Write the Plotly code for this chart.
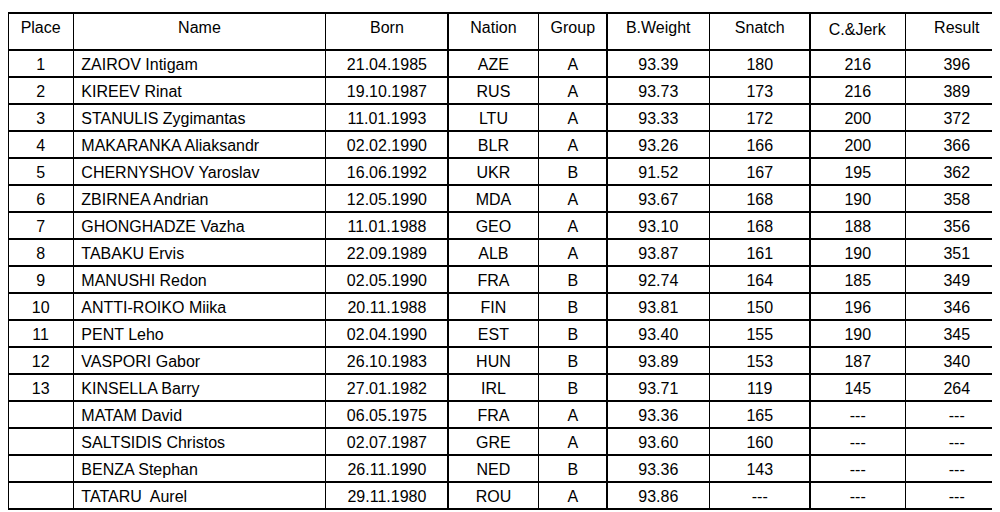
import plotly.graph_objects as go

headers = ["Place", "Name", "Born", "Nation", "Group", "B.Weight", "Snatch", "C.&Jerk", "Result"]
place = ["1","2","3","4","5","6","7","8","9","10","11","12","13","","","",""]
names = ["ZAIROV Intigam","KIREEV Rinat","STANULIS Zygimantas","MAKARANKA Aliaksandr","CHERNYSHOV Yaroslav",
         "ZBIRNEA Andrian","GHONGHADZE Vazha","TABAKU Ervis","MANUSHI Redon","ANTTI-ROIKO Miika","PENT Leho",
         "VASPORI Gabor","KINSELLA Barry","MATAM David","SALTSIDIS Christos","BENZA Stephan","TATARU  Aurel"]
born = ["21.04.1985","19.10.1987","11.01.1993","02.02.1990","16.06.1992","12.05.1990","11.01.1988","22.09.1989",
        "02.05.1990","20.11.1988","02.04.1990","26.10.1983","27.01.1982","06.05.1975","02.07.1987","26.11.1990","29.11.1980"]
nation = ["AZE","RUS","LTU","BLR","UKR","MDA","GEO","ALB","FRA","FIN","EST","HUN","IRL","FRA","GRE","NED","ROU"]
group = ["A","A","A","A","B","A","A","A","B","B","B","B","B","A","A","B","A"]
bweight = ["93.39","93.73","93.33","93.26","91.52","93.67","93.10","93.87","92.74","93.81","93.40","93.89","93.71",
           "93.36","93.60","93.36","93.86"]
snatch = ["180","173","172","166","167","168","168","161","164","150","155","153","119","165","160","143","---"]
cjerk = ["216","216","200","200","195","190","188","190","185","196","190","187","145","---","---","---","---"]
result = ["396","389","372","366","362","358","356","351","349","346","345","340","264","---","---","---","---"]

widths = [65, 251, 122, 90, 68, 102, 100, 95, 102]
font = dict(family="Liberation Sans, Arial", size=16, color="black")

fig = go.Figure(go.Table(
    columnwidth=widths,
    domain=dict(x=[0, 1], y=[0, 1 - 5/512]),
    header=dict(values=headers, height=37, font=font, fill_color="white",
                line=dict(color="black", width=1.5), align="center"),
    cells=dict(values=[place, names, born, nation, group, bweight, snatch, cjerk, result],
               height=27, font=font, fill_color="white", line=dict(color="black", width=1.5),
               align=["center", "left", "center", "center", "center", "center", "center", "center", "center"]),
))
fig.update_layout(width=1000, height=512, margin=dict(l=0, r=0, t=0, b=0), paper_bgcolor="white")
fig.write_html("out.html")
